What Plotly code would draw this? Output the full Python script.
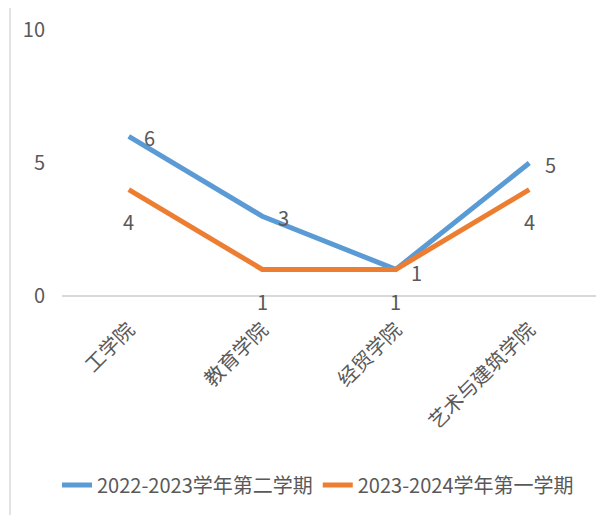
import plotly.graph_objects as go

categories = ["工学院", "教育学院", "经贸学院", "艺术与建筑学院"]
series_names = ["2022-2023学年第二学期", "2023-2024学年第一学期"]
values_2223 = [6, 3, 1, 5]
values_2324 = [4, 1, 1, 4]
y_ticks = [0, 5, 10]

# page body adds an 8px offset; compensate
OFF = 8
W, H = 616 - OFF, 515 - OFF
L, R, T, B = 62 - OFF, 20, 30 - OFF, 218
pw, ph = W - L - R, H - T - B

def px_x(px):
    return (px - OFF - L) / pw

def px_y(py):
    return (H - B - (py - OFF)) / ph

FONT = "Noto Sans CJK SC"
GREY = "#595959"
BLUE = "#5B9BD5"
ORANGE = "#ED7D31"

fig = go.Figure()
fig.add_trace(go.Scatter(x=categories, y=values_2223, mode="lines", name=series_names[0],
                         line=dict(color=BLUE, width=5)))
fig.add_trace(go.Scatter(x=categories, y=values_2324, mode="lines", name=series_names[1],
                         line=dict(color=ORANGE, width=5)))

for c, v in zip(categories, values_2223):
    fig.add_annotation(x=c, y=v, xref="x", yref="y", text=str(v), showarrow=False,
                       xshift=21, yshift=-1 if v != 1 else -3,
                       font=dict(family=FONT, size=20, color=GREY))
for c, v in zip(categories, values_2324):
    fig.add_annotation(x=c, y=v, xref="x", yref="y", text=str(v), showarrow=False,
                       yshift=-32, font=dict(family=FONT, size=20, color=GREY))

fig.add_shape(type="rect", xref="paper", yref="paper",
              x0=px_x(10), x1=px_x(612), y0=px_y(530), y1=px_y(6),
              line=dict(color="#d9d9d9", width=1.5), fillcolor="rgba(0,0,0,0)", layer="below")

fig.update_layout(
    width=W, height=H,
    margin=dict(l=L, r=R, t=T, b=B),
    paper_bgcolor="white", plot_bgcolor="white",
    font=dict(family=FONT, size=20, color=GREY),
    showlegend=True,
    legend=dict(orientation="h", x=px_x(318), xanchor="center", y=px_y(485), yanchor="middle",
                font=dict(family=FONT, size=20, color=GREY)),
    xaxis=dict(range=[-0.5, 3.5], showgrid=False, showline=False, zeroline=False, tickangle=-45,
               ticks="", tickfont=dict(family=FONT, size=20, color=GREY),
               ticklabelstandoff=17, automargin=False),
    yaxis=dict(range=[0, 10], tickvals=y_ticks, showgrid=False, showline=False,
               zeroline=True, zerolinecolor="#d9d9d9", zerolinewidth=1.5,
               ticks="", tickfont=dict(family=FONT, size=20, color=GREY),
               ticklabelstandoff=16, automargin=False),
)

fig.write_html("out.html")
